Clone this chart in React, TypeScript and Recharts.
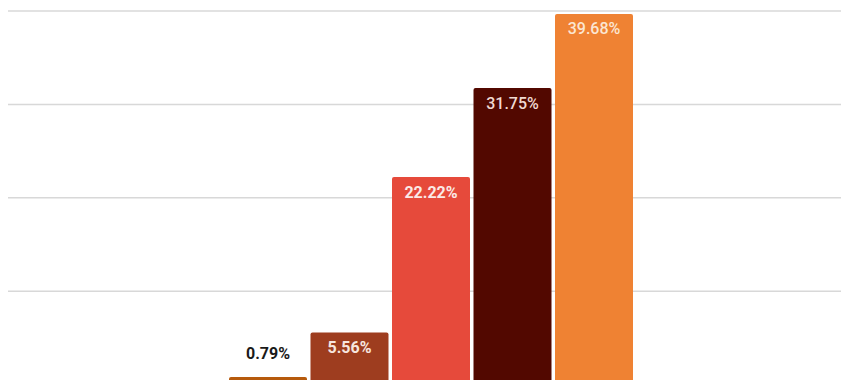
import { Bar, BarChart, CartesianGrid, LabelList, XAxis, YAxis } from "recharts";

const CATEGORIES = ["Share"];
const SERIES_KEYS = ["s1", "s2", "s3", "s4", "s5"];
const SERIES_VALUES = [0.79, 5.56, 22.22, 31.75, 39.68];
const SERIES_COLORS = ["#b65a0c", "#9e3d1f", "#e64a3b", "#520800", "#ef8233"];
const LABEL_COLORS = ["#1a1a1a", "#f7e6df", "#fbe9e6", "#f0d9d2", "#fbe6d2"];
const LABEL_WEIGHTS = [700, 700, 700, 500, 500];
const Y_TICKS = [0, 10, 20, 30, 40];

const data = CATEGORIES.map((name) => {
  const row: Record<string, string | number> = { name };
  SERIES_KEYS.forEach((k, i) => {
    row[k] = SERIES_VALUES[i];
  });
  return row;
});

function makeLabel(i: number) {
  return (props: any) => {
    const { x, y, width, height, value } = props;
    const cx = Number(x) + Number(width) / 2;
    const inside = Number(height) > 30;
    return (
      <text
        x={cx}
        y={inside ? Number(y) + 15 : Number(y) - 24}
        textAnchor="middle"
        dominantBaseline="central"
        fill={LABEL_COLORS[i]}
        fontSize={16}
        fontWeight={LABEL_WEIGHTS[i]}
        fontFamily="Roboto, sans-serif"
      >
        {`${Number(value).toFixed(2)}%`}
      </text>
    );
  };
}

export default function App() {
  return (
    <div
      style={{
        position: "absolute",
        left: 0,
        top: 0,
        width: 841,
        height: 380,
        overflow: "hidden",
        background: "#fff",
      }}
    >
      <BarChart
        width={853}
        height={400}
        data={data}
        margin={{ top: 11, right: 0, left: 8, bottom: 15.5 }}
        barGap={3.5}
        barSize={78}
      >
        <CartesianGrid vertical={false} stroke="#d8d8d8" strokeWidth={1.5} />
        <XAxis dataKey="name" hide />
        <YAxis hide domain={[0, 40]} ticks={Y_TICKS} />
        {SERIES_KEYS.map((k, i) => (
          <Bar
            key={k}
            dataKey={k}
            fill={SERIES_COLORS[i]}
            radius={[2, 2, 0, 0]}
            isAnimationActive={false}
          >
            <LabelList dataKey={k} content={makeLabel(i)} />
          </Bar>
        ))}
      </BarChart>
    </div>
  );
}
